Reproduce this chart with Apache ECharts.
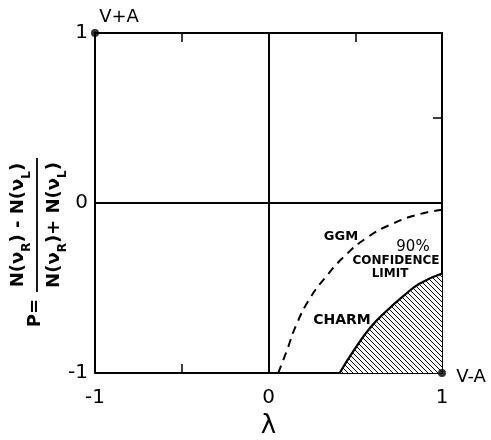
<!DOCTYPE html>
<html>
<head>
<meta charset="utf-8">
<script src="https://cdn.jsdelivr.net/npm/echarts@6/dist/echarts.min.js"></script>
<style>
html,body{margin:0;padding:0;background:#fff;}
#c{width:491px;height:440px;}
</style>
</head>
<body>
<div id="c"></div>
<script>
// ---- data ----
const xTickLabels = {'-1': '-1', '0': '0', '1': '1'};
const yTickLabels = {'-1': '-1', '0': '0', '1': '1'};
// GGM prediction (dashed)
const ggmLambda = [0.056, 0.105, 0.163, 0.239, 0.326, 0.431, 0.566, 0.719, 0.873, 1.0];
const ggmP      = [-1.0, -0.87, -0.71, -0.56, -0.44, -0.32, -0.205, -0.12, -0.065, -0.04];
// CHARM 90% confidence limit (hatched region below/right)
const charmLambda = [0.41, 0.49, 0.585, 0.68, 0.78, 0.87, 1.0];
const charmP      = [-1.0, -0.87, -0.735, -0.635, -0.545, -0.475, -0.415];
// marked points
const pointsLambda = [-1, 1];
const pointsP      = [1, -1];

const FONT = 'DejaVu Sans';
const chart = echarts.init(document.getElementById('c'), null, {renderer: 'canvas'});

// hatch pattern "\\\\"
const s = 5;
const cv = document.createElement('canvas');
cv.width = s; cv.height = s;
const cx = cv.getContext('2d');
cx.fillStyle = '#fff'; cx.fillRect(0, 0, s, s);
cx.strokeStyle = '#000'; cx.lineWidth = 1;
cx.beginPath();
cx.moveTo(-1, -1); cx.lineTo(s + 1, s + 1);
cx.moveTo(-1, s - 1); cx.lineTo(1, s + 1);
cx.moveTo(s - 1, -1); cx.lineTo(s + 1, 1);
cx.stroke();

const zip = (a, b) => a.map((v, i) => [v, b[i]]);
const fmt = (m) => (v) => (m[String(v)] !== undefined ? m[String(v)] : '');

const baseAxis = {
  type: 'value', min: -1, max: 1, interval: 0.5,
  axisLine: {show: true, onZero: false, lineStyle: {color: '#000', width: 2}},
  axisTick: {show: true, inside: true, length: 9, lineStyle: {color: '#000', width: 1.5}},
  splitLine: {show: false},
  axisLabel: {show: false}
};

const sub = {fontFamily: FONT, fontWeight: 'bold', fontSize: 12, lineHeight: 12, padding: [12, 0, 0, 0], verticalAlign: 'top', color: '#000'};
const main = {fontFamily: FONT, fontWeight: 'bold', fontSize: 18, lineHeight: 22, verticalAlign: 'top', color: '#000'};
const fracRich = {m: main, s: sub};

chart.setOption({
  animation: false,
  backgroundColor: '#fff',
  grid: {left: 95, right: 49, top: 33, bottom: 67, containLabel: false, outerBoundsMode: 'none'},
  xAxis: [
    Object.assign({}, baseAxis, {position: 'bottom',
      axisLabel: {show: true, margin: 15, formatter: fmt(xTickLabels), color: '#000', fontFamily: FONT, fontSize: 20},
      name: 'λ', nameLocation: 'middle', nameGap: 40, nameTextStyle: {color: '#000', fontFamily: FONT, fontSize: 26}}),
    Object.assign({}, baseAxis, {position: 'top'})
  ],
  yAxis: [
    Object.assign({}, baseAxis, {position: 'left', axisTick: {show: false},
      axisLabel: {show: true, margin: 7, formatter: fmt(yTickLabels), color: '#000', fontFamily: FONT, fontSize: 20}}),
    Object.assign({}, baseAxis, {position: 'right'})
  ],
  series: [
    {
      type: 'line', name: 'GGM', data: zip(ggmLambda, ggmP), smooth: true, symbol: 'none',
      lineStyle: {color: '#000', width: 2, type: [8, 6]}, z: 3
    },
    {
      type: 'line', name: 'CHARM', data: zip(charmLambda, charmP), smooth: true, symbol: 'none',
      lineStyle: {color: '#000', width: 2.2},
      areaStyle: {origin: 'start', color: {image: cv, repeat: 'repeat'}, opacity: 1}, z: 2
    },
    {
      type: 'scatter', data: zip(pointsLambda, pointsP), symbol: 'circle', symbolSize: 8,
      itemStyle: {color: '#000'}, z: 5,
      markLine: {
        silent: true, symbol: 'none', animation: false,
        label: {show: false},
        lineStyle: {color: '#000', width: 2, type: 'solid'},
        data: [{xAxis: 0}, {yAxis: 0}]
      }
    }
  ],
  graphic: [
    {type: 'text', x: 119, y: 17, style: {text: 'V+A', font: '18px "DejaVu Sans"', fill: '#000', align: 'center', verticalAlign: 'middle'}},
    {type: 'text', x: 471, y: 377, style: {text: 'V-A', font: '18px "DejaVu Sans"', fill: '#000', align: 'center', verticalAlign: 'middle'}},
    {type: 'text', x: 341, y: 237, style: {text: 'GGM', font: 'bold 13px "DejaVu Sans"', fill: '#000', align: 'center', verticalAlign: 'middle'}},
    {type: 'text', x: 413, y: 247, style: {text: '90%', font: '15px "DejaVu Sans"', fill: '#000', align: 'center', verticalAlign: 'middle'}},
    {type: 'text', x: 396, y: 261, style: {text: 'CONFIDENCE', font: 'bold 12px "DejaVu Sans"', fill: '#000', align: 'center', verticalAlign: 'middle'}},
    {type: 'text', x: 390, y: 274, style: {text: 'LIMIT', font: 'bold 12px "DejaVu Sans"', fill: '#000', align: 'center', verticalAlign: 'middle'}},
    {type: 'text', x: 342, y: 320, style: {text: 'CHARM', font: 'bold 14px "DejaVu Sans"', fill: '#000', align: 'center', verticalAlign: 'middle'}},
    {
      type: 'group', x: 37, y: 225, rotation: Math.PI / 2,
      children: [
        {type: 'line', shape: {x1: -67, y1: 0, x2: 67, y2: 0}, style: {stroke: '#000', lineWidth: 1.8}},
        {type: 'text', x: 0, y: -6, style: {
          text: '{m|N(ν}{s|R}{m|) - N(ν}{s|L}{m|)}', rich: fracRich, align: 'center', verticalAlign: 'bottom'}},
        {type: 'text', x: 0, y: 8, style: {
          text: '{m|N(ν}{s|R}{m|)+ N(ν}{s|L}{m|)}', rich: fracRich, align: 'center', verticalAlign: 'top'}},
        {type: 'text', x: -88, y: -2, style: {text: 'P=', font: 'bold 18px "DejaVu Sans"', fill: '#000', align: 'center', verticalAlign: 'middle'}}
      ]
    }
  ]
});
</script>
</body>
</html>
